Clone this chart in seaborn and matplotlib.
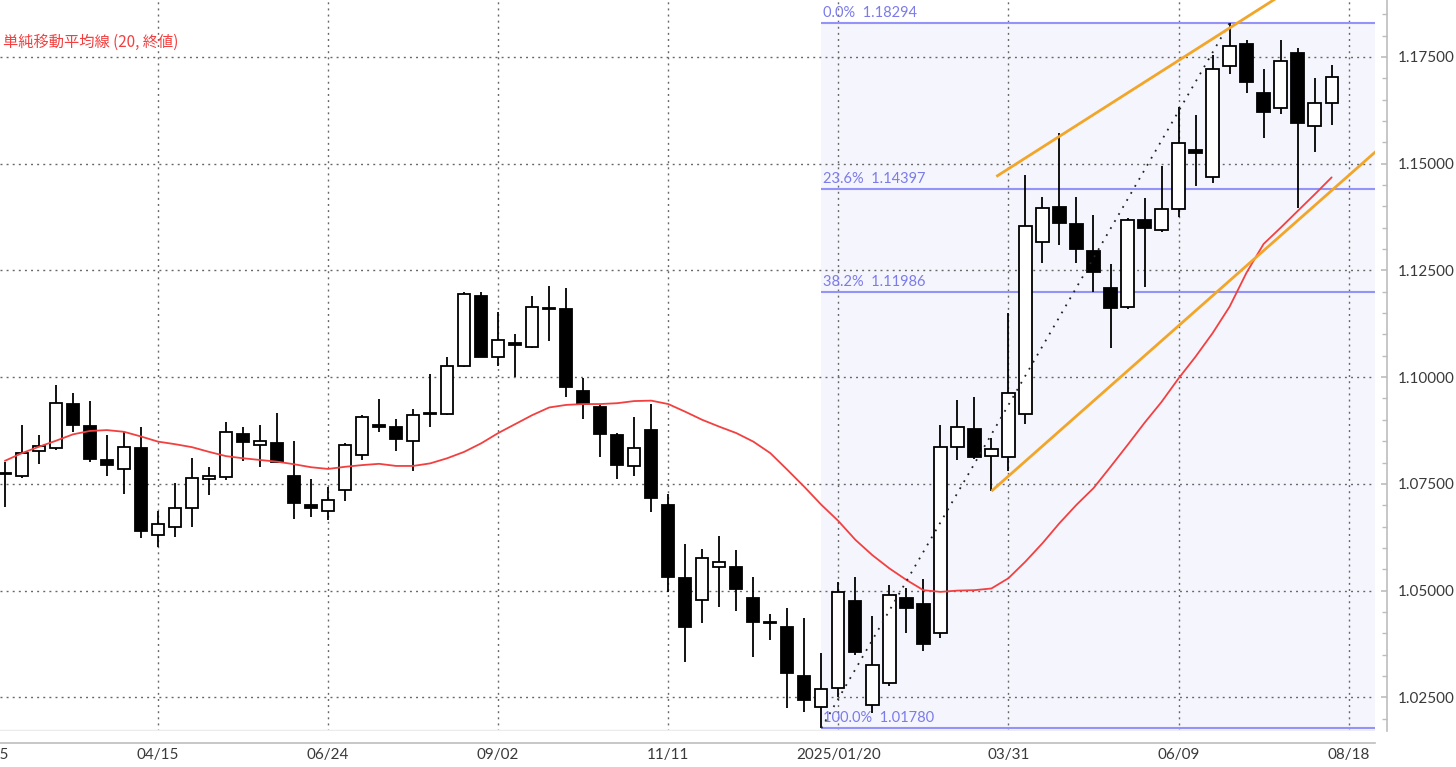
import numpy as np
import pandas as pd
import matplotlib
matplotlib.use("Agg")
import matplotlib.pyplot as plt
import matplotlib.ticker as mticker
import seaborn as sns

# ---------------- data (weekly EUR/USD style candles) ----------------
dates = pd.date_range("2024-02-12", periods=79, freq="W-MON")

opens = [1.0776, 1.0768, 1.0828, 1.0833, 1.0936, 1.0886, 1.0806, 1.0786, 1.0834,
         1.0631, 1.0650, 1.0693, 1.0761, 1.0765, 1.0866, 1.0841, 1.0845, 1.0768, 1.0701,
         1.0687, 1.0736, 1.0817, 1.0888, 1.0883, 1.0851, 1.0913, 1.0914, 1.1025, 1.1190,
         1.1047, 1.1081, 1.1071, 1.1163, 1.1159, 1.0968, 1.0931, 1.0865, 1.0792, 1.0876,
         1.0701, 1.0529, 1.0478, 1.0556, 1.0555, 1.0483, 1.0423, 1.0414, 1.0301, 1.0228,
         1.0273, 1.0476, 1.0232, 1.0284, 1.0483, 1.0468, 1.0400, 1.0837, 1.0879, 1.0815,
         1.0812, 1.0914, 1.1317, 1.1398, 1.1359, 1.1296, 1.1208, 1.1165, 1.1367, 1.1345,
         1.1393, 1.1531, 1.1470, 1.1729, 1.1781, 1.1666, 1.1631, 1.1760, 1.1588, 1.1643]
highs = [1.0802, 1.0888, 1.0865, 1.0982, 1.0964, 1.0943, 1.0865, 1.0872, 1.0884,
         1.0687, 1.0751, 1.0810, 1.0790, 1.0894, 1.0883, 1.0888, 1.0915, 1.0851, 1.0761,
         1.0743, 1.0845, 1.0911, 1.0948, 1.0901, 1.0925, 1.1007, 1.1047, 1.1200, 1.1200,
         1.1153, 1.1101, 1.1189, 1.1214, 1.1208, 1.0997, 1.0935, 1.0869, 1.0906, 1.0937,
         1.0726, 1.0609, 1.0597, 1.0629, 1.0594, 1.0533, 1.0445, 1.0459, 1.0435, 1.0353,
         1.0521, 1.0531, 1.0441, 1.0513, 1.0505, 1.0527, 1.0888, 1.0947, 1.0954, 1.0857,
         1.1150, 1.1474, 1.1423, 1.1571, 1.1423, 1.1380, 1.1265, 1.1372, 1.1419, 1.1495,
         1.1633, 1.1614, 1.1755, 1.18294, 1.1790, 1.1722, 1.1790, 1.1770, 1.1700, 1.1731]
lows = [1.0697, 1.0763, 1.0797, 1.0830, 1.0872, 1.0802, 1.0768, 1.0726, 1.0623,
        1.0603, 1.0625, 1.0650, 1.0724, 1.0760, 1.0804, 1.0790, 1.0800, 1.0667, 1.0672,
        1.0665, 1.0711, 1.0806, 1.0872, 1.0828, 1.0779, 1.0883, 1.0911, 1.1023, 1.1047,
        1.1025, 1.1001, 1.1068, 1.1085, 1.0953, 1.0901, 1.0812, 1.0761, 1.0768, 1.0683,
        1.0497, 1.0333, 1.0425, 1.0461, 1.0453, 1.0344, 1.0384, 1.0224, 1.0216, 1.0178,
        1.0251, 1.0349, 1.0213, 1.0277, 1.0400, 1.0359, 1.0388, 1.0806, 1.0808, 1.0734,
        1.0779, 1.0890, 1.1267, 1.1310, 1.1267, 1.1200, 1.1068, 1.1160, 1.1212, 1.1340,
        1.1375, 1.1448, 1.1454, 1.1710, 1.1665, 1.1560, 1.1616, 1.1396, 1.1528, 1.1591]
closes = [1.0773, 1.0822, 1.0839, 1.0940, 1.0888, 1.0808, 1.0795, 1.0836, 1.0640,
          1.0656, 1.0694, 1.0763, 1.0768, 1.0871, 1.0847, 1.0850, 1.0802, 1.0705, 1.0694,
          1.0712, 1.0841, 1.0907, 1.0883, 1.0854, 1.0911, 1.0917, 1.1026, 1.1194, 1.1048,
          1.1087, 1.1075, 1.1164, 1.1160, 1.0976, 1.0937, 1.0867, 1.0794, 1.0833, 1.0717,
          1.0531, 1.0415, 1.0577, 1.0568, 1.0503, 1.0427, 1.0426, 1.0306, 1.0244, 1.0269,
          1.0497, 1.0357, 1.0326, 1.0490, 1.0459, 1.0375, 1.0837, 1.0883, 1.0812, 1.0831,
          1.0964, 1.1353, 1.1396, 1.1360, 1.1300, 1.1247, 1.1161, 1.1367, 1.1349, 1.1393,
          1.1549, 1.1524, 1.1721, 1.1776, 1.1692, 1.1622, 1.1741, 1.1596, 1.1643, 1.1704]
sma20 = [1.0804, 1.0822, 1.0837, 1.0851, 1.0866, 1.0874, 1.0876, 1.0872, 1.0861,
         1.0849, 1.0843, 1.0836, 1.0825, 1.0815, 1.0810, 1.0806, 1.0802, 1.0796, 1.0789,
         1.0785, 1.0790, 1.0794, 1.0797, 1.0792, 1.0792, 1.0798, 1.0810, 1.0825, 1.0845,
         1.0869, 1.0890, 1.0911, 1.0929, 1.0935, 1.0937, 1.0937, 1.0939, 1.0944, 1.0945,
         1.0937, 1.0919, 1.0900, 1.0884, 1.0869, 1.0849, 1.0822, 1.0783, 1.0743, 1.0701,
         1.0663, 1.0619, 1.0583, 1.0552, 1.0525, 1.0501, 1.0497, 1.0500, 1.0501, 1.0505,
         1.0529, 1.0568, 1.0611, 1.0658, 1.0701, 1.0740, 1.0790, 1.0841, 1.0893, 1.0942,
         1.0997, 1.1048, 1.1103, 1.1165, 1.1245, 1.1312, 1.1350, 1.1389, 1.1428, 1.1468]

tick_dates = ["2024-02-05", "2024-04-15", "2024-06-24", "2024-09-02", "2024-11-11",
              "2025-01-20", "2025-03-31", "2025-06-09", "2025-08-18"]
tick_labels = ["02/05", "04/15", "06/24", "09/02", "11/11",
               "2025/01/20", "03/31", "06/09", "08/18"]

fib_pct = [0.0, 23.6, 38.2, 100.0]
fib_price = [1.18294, 1.14397, 1.11986, 1.01780]
fib_low_date, fib_high_date = "2025-01-13", "2025-06-30"

upper_dates, upper_prices = ["2025-03-26", "2025-07-21"], [1.1470, 1.1894]
lower_dates, lower_prices = ["2025-03-24", "2025-09-08"], [1.0733, 1.1578]

sma_label = "単純移動平均線 (20, 終値)"

# ---------------- styling ----------------
sns.set_theme(style="white")
plt.rcParams["font.family"] = ["Lato", "Noto Sans CJK JP", "DejaVu Sans"]

ref = pd.Timestamp("2024-04-15")
def wk(d):
    d = pd.to_datetime(d)
    return np.asarray((d - ref) / pd.Timedelta(days=7), dtype=float)

x = wk(dates)
o, h, l, c = map(np.asarray, (opens, highs, lows, closes))

fig = plt.figure(figsize=(14.56, 7.67), dpi=100)
fig.patch.set_facecolor("white")
ax = fig.add_axes([0, 36 / 767, 1375 / 1456, 731 / 767])
ax.set_facecolor("white")

XMIN, XMAX = -9.289, 71.55
YMIN, YMAX = 1.01711, 1.18835
ax.set_xlim(XMIN, XMAX)
ax.set_ylim(YMIN, YMAX)

# Fibonacci shaded zone
x_fl = float(wk(fib_low_date))
x_fh = float(wk(fib_high_date))
ax.fill_between([x_fl, XMAX + 2], YMIN - 1, fib_price[0], color="#f5f5fd", zorder=0, lw=0)
ax.hlines(fib_price, x_fl, XMAX + 2, color="#9393fa", lw=1.5, zorder=1)
for pct, pr in zip(fib_pct, fib_price):
    ax.annotate(f"{pct:.1f}%  {pr:.5f}", (x_fl, pr), xytext=(1, 2.5),
                textcoords="offset points", ha="left", va="bottom",
                color="#7b7bea", fontsize=10.5, zorder=6)

# grid
ax.grid(True, which="major", axis="both", color="#666666", lw=1.0,
        linestyle=(0, (1.4, 3.0)), zorder=0.5)
ax.set_axisbelow(True)

# candles
colors = np.where(c < o, "black", "white")
ax.vlines(x, l, h, color="black", lw=1.3, zorder=3)
ax.bar(x, np.abs(c - o), bottom=np.minimum(o, c), width=0.72, color=colors,
       edgecolor="black", linewidth=1.3, zorder=4)

# SMA
sns.lineplot(x=x, y=sma20, ax=ax, color="#f24040", lw=1.3, zorder=5, legend=False)

# fib diagonal
ax.plot([x_fl, x_fh], [fib_price[3], fib_price[0]], color="#222222", lw=1.3,
        linestyle=(0, (1, 3.5)), zorder=5)

# trend channel
ax.plot(wk(upper_dates), upper_prices, color="#f2a629", lw=2.0, zorder=6,
        solid_capstyle="butt")
ax.plot(wk(lower_dates), lower_prices, color="#f2a629", lw=2.0, zorder=6,
        solid_capstyle="butt")

# bottom light border
ax.axhline(YMIN, color="#ececec", lw=2.5, zorder=1)

# axes / ticks
for s in ("top", "left"):
    ax.spines[s].set_visible(False)
for s in ("bottom", "right"):
    ax.spines[s].set_visible(True)
    ax.spines[s].set_color("#bdbdbd")
    ax.spines[s].set_linewidth(1.2)
ax.spines["bottom"].set_position(("outward", 8.6))
ax.spines["right"].set_position(("outward", 8.6))

tx = wk(tick_dates)
ax.set_xticks(tx[1:])
ax.set_xticklabels(tick_labels[1:])
ax.xaxis.set_minor_locator(mticker.MultipleLocator(2))
ax.tick_params(axis="x", which="major", direction="in", length=9.4, width=1.2,
               color="#bdbdbd", labelsize=11, labelcolor="#3a3a3a", pad=4)
ax.tick_params(axis="x", which="minor", direction="in", length=5.0, width=1.0,
               color="#bdbdbd")
# first, partly cut label (cut by the figure edge, as in the reference)
ax.annotate(tick_labels[0], (tx[0], 0), xycoords=("data", "axes fraction"),
            xytext=(0, -8.6 - 4), textcoords="offset points", ha="center", va="top",
            fontsize=11, color="#3a3a3a", annotation_clip=False)

ax.yaxis.tick_right()
ax.yaxis.set_major_locator(mticker.MultipleLocator(0.025))
ax.yaxis.set_minor_locator(mticker.MultipleLocator(0.005))
ax.yaxis.set_major_formatter(mticker.FormatStrFormatter("%.5f"))
ax.tick_params(axis="y", which="major", direction="in", length=4.3, width=1.2,
               color="#bdbdbd", labelsize=11, labelcolor="#3a3a3a", pad=7.5,
               left=False, right=True, labelleft=False, labelright=True)
ax.tick_params(axis="y", which="minor", direction="in", length=3.5, width=1.0,
               color="#bdbdbd", left=False, right=True)
ax.set_xlabel("")
ax.set_ylabel("")

# SMA legend text
ax.text(3 / 1375, 1 - 42 / 731, sma_label, transform=ax.transAxes, ha="left",
        va="center", color="#f24040", fontsize=11,
        family=["Noto Sans CJK JP", "DejaVu Sans"], zorder=7)

fig.savefig("out.png", dpi=100, facecolor="white")
